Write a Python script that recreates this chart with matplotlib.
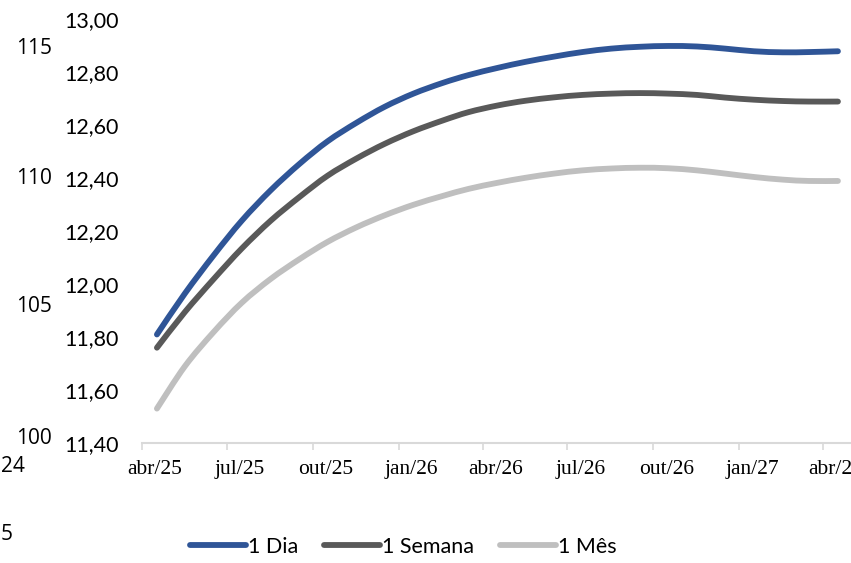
import numpy as np
import pandas as pd
import matplotlib
matplotlib.use("Agg")
import matplotlib.pyplot as plt
import matplotlib.dates as mdates
import matplotlib.transforms as mtransforms
from matplotlib.path import Path
from matplotlib.patches import PathPatch
from matplotlib.lines import Line2D


# curva projetada, um ponto por mês
datas = pd.date_range("2025-04-01", periods=25, freq="MS") + pd.Timedelta(days=16)

dia = [11.81, 11.965, 12.11, 12.24, 12.355, 12.455, 12.54, 12.61, 12.67, 12.72,
       12.76, 12.79, 12.817, 12.84, 12.86, 12.877, 12.89, 12.897, 12.90, 12.898,
       12.89, 12.88, 12.876, 12.877, 12.88]
semana = [11.76, 11.895, 12.02, 12.135, 12.24, 12.33, 12.41, 12.475, 12.53, 12.578,
          12.618, 12.65, 12.675, 12.693, 12.706, 12.715, 12.72, 12.722, 12.72, 12.715,
          12.705, 12.697, 12.692, 12.69, 12.69]
mes = [11.53, 11.69, 11.82, 11.93, 12.02, 12.095, 12.16, 12.215, 12.26, 12.30,
       12.333, 12.36, 12.383, 12.402, 12.418, 12.43, 12.437, 12.44, 12.438, 12.43,
       12.418, 12.405, 12.395, 12.39, 12.39]

series = ["1 Dia", "1 Semana", "1 Mês"]
cores = ["#2F5597", "#595959", "#BFBFBF"]

ticks_x = pd.date_range("2025-04-01", "2027-04-01", freq="3MS")
meses_pt = {1: "jan", 4: "abr", 7: "jul", 10: "out"}
labels_x = [f"{meses_pt[d.month]}/{d.strftime('%y')}" for d in ticks_x]

ticks_y = [11.40, 11.60, 11.80, 12.00, 12.20, 12.40, 12.60, 12.80, 13.00]

# rótulos do gráfico de trás (eixo 100-115)
eixo_fundo = ["100", "105", "110", "115"]


def smooth_path(x, y):
    # linha suavizada estilo Excel (Catmull-Rom -> Bezier)
    x = np.asarray(x, dtype=float)
    y = np.asarray(y, dtype=float)
    verts = [(x[0], y[0])]
    codes = [Path.MOVETO]
    n = len(x)
    for i in range(n - 1):
        i0 = max(i - 1, 0)
        i3 = min(i + 2, n - 1)
        c1 = (x[i] + (x[i + 1] - x[i0]) / 6, y[i] + (y[i + 1] - y[i0]) / 6)
        c2 = (x[i + 1] - (x[i3] - x[i]) / 6, y[i + 1] - (y[i3] - y[i]) / 6)
        verts += [c1, c2, (x[i + 1], y[i + 1])]
        codes += [Path.CURVE4] * 3
    return Path(verts, codes)


plt.rcParams["font.family"] = ["Lato", "DejaVu Sans"]

fig = plt.figure(figsize=(8.51, 5.63), dpi=100)
ax = fig.add_axes([142 / 851, 120 / 563, 709 / 851, 423.5 / 563])

xnum = mdates.date2num(datas.to_pydatetime())
for vals, cor in zip([dia, semana, mes], cores):
    patch = PathPatch(smooth_path(xnum, vals), facecolor="none", edgecolor=cor,
                      lw=4.2, capstyle="round", joinstyle="round")
    ax.add_patch(patch)

ax.set_xlim(mdates.date2num(pd.Timestamp("2025-04-01")),
            mdates.date2num(pd.Timestamp("2027-05-01")))
ax.set_ylim(11.40, 13.00)

ax.set_xticks(mdates.date2num(ticks_x.to_pydatetime()))
ax.set_xticklabels(labels_x, fontfamily="Liberation Serif", fontsize=15.5)
ax.set_yticks(ticks_y)
ax.set_yticklabels([f"{v:.2f}".replace(".", ",") for v in ticks_y], fontsize=15.5)

ax.tick_params(axis="y", length=0, pad=17)
ax.tick_params(axis="x", length=5, width=1.2, color="#D9D9D9", pad=7)
for s in ["top", "right", "left"]:
    ax.spines[s].set_visible(False)
ax.spines["bottom"].set_color("#D9D9D9")
ax.spines["bottom"].set_linewidth(1.5)

# rótulos do eixo x ficam um pouco à direita da marca
desloc = mtransforms.ScaledTranslation(0.13, 0, fig.dpi_scale_trans)
for lbl in ax.get_xticklabels():
    lbl.set_transform(lbl.get_transform() + desloc)

# textos do eixo do gráfico sobreposto
for txt, yp in zip(eixo_fundo, [438, 307, 178, 48]):
    fig.text(52 / 851, 1 - yp / 563, txt, ha="right", va="center",
             fontsize=15, family=["Open Sans", "DejaVu Sans"])
fig.text(0.5 / 851, 1 - 467 / 563, "24", ha="left", va="center",
         fontsize=15, family=["Open Sans", "DejaVu Sans"])
fig.text(0.5 / 851, 1 - 535 / 563, "5", ha="left", va="center",
         fontsize=15, family=["Open Sans", "DejaVu Sans"])

handles = [Line2D([], [], color=c, lw=4.2, solid_capstyle="round") for c in cores]
fig.legend(handles, series, loc="center", bbox_to_anchor=(403 / 851, 1 - 547 / 563),
           ncol=3, frameon=False, fontsize=15.5, handlelength=2.6,
           handletextpad=0.1, columnspacing=1.2)

fig.savefig("out.png", dpi=100)
